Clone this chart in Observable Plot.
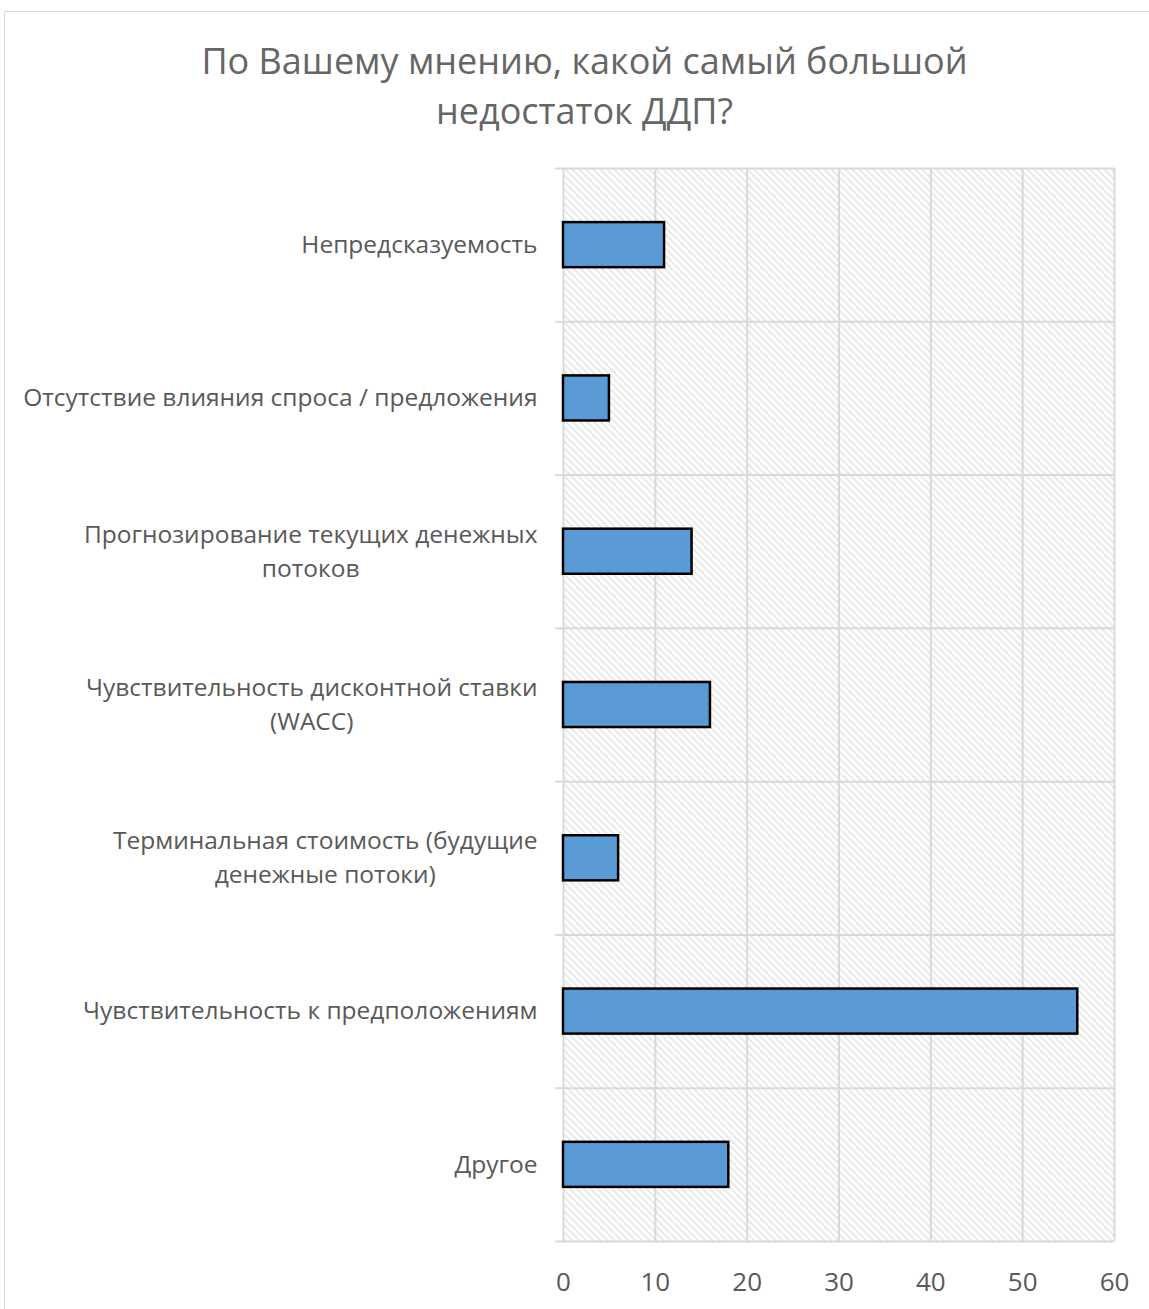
<!DOCTYPE html>
<html><head><meta charset="utf-8">
<script src="https://cdn.jsdelivr.net/npm/d3@7"></script>
<script src="https://cdn.jsdelivr.net/npm/@observablehq/plot@0.6"></script>
<style>
body{margin:0;background:#fff;font-family:"Open Sans",sans-serif}
#wrap{position:relative;width:1149px;height:1309px;overflow:hidden}
#border{position:absolute;left:4px;top:11px;width:1200px;height:1400px;border:1px solid #d9d9d9}
#title{position:relative;margin:0;padding:36px 0 0 20px;text-align:center;font-size:36px;line-height:50px;color:#666;font-weight:400}
#chart{position:relative}
#chart svg{display:block}
</style></head><body>
<div id="wrap"><div id="border"></div>
<div id="title">По Вашему мнению, какой самый большой<br>недостаток ДДП?</div>
<div id="chart"></div></div>
<script>
const categories = [
  "Непредсказуемость",
  "Отсутствие влияния спроса / предложения",
  "Прогнозирование текущих денежных потоков",
  "Чувствительность дисконтной ставки (WACC)",
  "Терминальная стоимость (будущие денежные потоки)",
  "Чувствительность к предположениям",
  "Другое"
];
const categoryLabels = [
  "Непредсказуемость",
  "Отсутствие влияния спроса / предложения",
  "Прогнозирование текущих денежных\nпотоков",
  "Чувствительность дисконтной ставки\n(WACC)",
  "Терминальная стоимость (будущие\nденежные потоки)",
  "Чувствительность к предположениям",
  "Другое"
];
const values = [11, 5, 14, 16, 6, 56, 18];
const xTicks = [0, 10, 20, 30, 40, 50, 60];

const n = categories.length;
const half = 0.147;
const data = categories.map((c, i) => ({category: c, value: values[i], index: i}));

const plot = Plot.plot({
  width: 1149, height: 1173,
  marginTop: 32, marginBottom: 68, marginLeft: 563, marginRight: 35,
  x: {domain: [0, 60], label: null},
  y: {domain: [0, n], reverse: true, label: null},
  style: {fontFamily: "Open Sans", color: "#595959", background: "transparent"},
  marks: [
    Plot.frame({fill: "url(#hatch)", stroke: null}),
    Plot.gridX(xTicks, {stroke: "#d9d9d9", strokeOpacity: 1, strokeWidth: 2}),
    Plot.gridY(d3.range(n + 1), {stroke: "#d9d9d9", strokeOpacity: 1, strokeWidth: 2}),
    Plot.axisY(d3.range(n + 1), {tickSize: 8, tickFormat: () => "", label: null, stroke: "#d9d9d9", strokeWidth: 2, strokeOpacity: 1}),
    Plot.axisY(d3.range(n).map(i => i + 0.5), {
      tickSize: 0, tickPadding: 26, fontSize: 24.5, lineHeight: 1.39, fill: "#595959", label: null, dy: -3,
      tickFormat: v => categoryLabels[Math.floor(v)]
    }),
    Plot.axisX(xTicks, {tickSize: 0, tickPadding: 31, fontSize: 26, fill: "#595959", label: null}),
    Plot.rect(data, {
      x1: 0, x2: "value",
      y1: d => d.index + 0.5 - half, y2: d => d.index + 0.5 + half,
      fill: "#5B9BD5", stroke: "#000", strokeWidth: 2.5
    })
  ]
});
document.getElementById("chart").appendChild(plot);

// hatch pattern definition
const ns = "http://www.w3.org/2000/svg";
const defs = document.createElementNS(ns, "defs");
defs.innerHTML = '<pattern id="hatch" patternUnits="userSpaceOnUse" width="7" height="7">' +
  '<path d="M-1,-1 L8,8 M-1,6 L1,8 M6,-1 L8,1" stroke="#d6d6d6" stroke-width="1.2" fill="none"/></pattern>';
plot.insertBefore(defs, plot.firstChild);

// center multi-line category labels within their block
plot.querySelectorAll('g[aria-label="y-axis tick label"] text').forEach(t => {
  const spans = t.querySelectorAll("tspan");
  if (spans.length > 1) {
    let w = 0;
    spans.forEach(s => { w = Math.max(w, s.getComputedTextLength()); });
    const X = +(t.getAttribute("x") || 0);
    t.setAttribute("text-anchor", "middle");
    spans.forEach(s => s.setAttribute("x", X - w / 2));
  }
});
</script>
</body></html>
